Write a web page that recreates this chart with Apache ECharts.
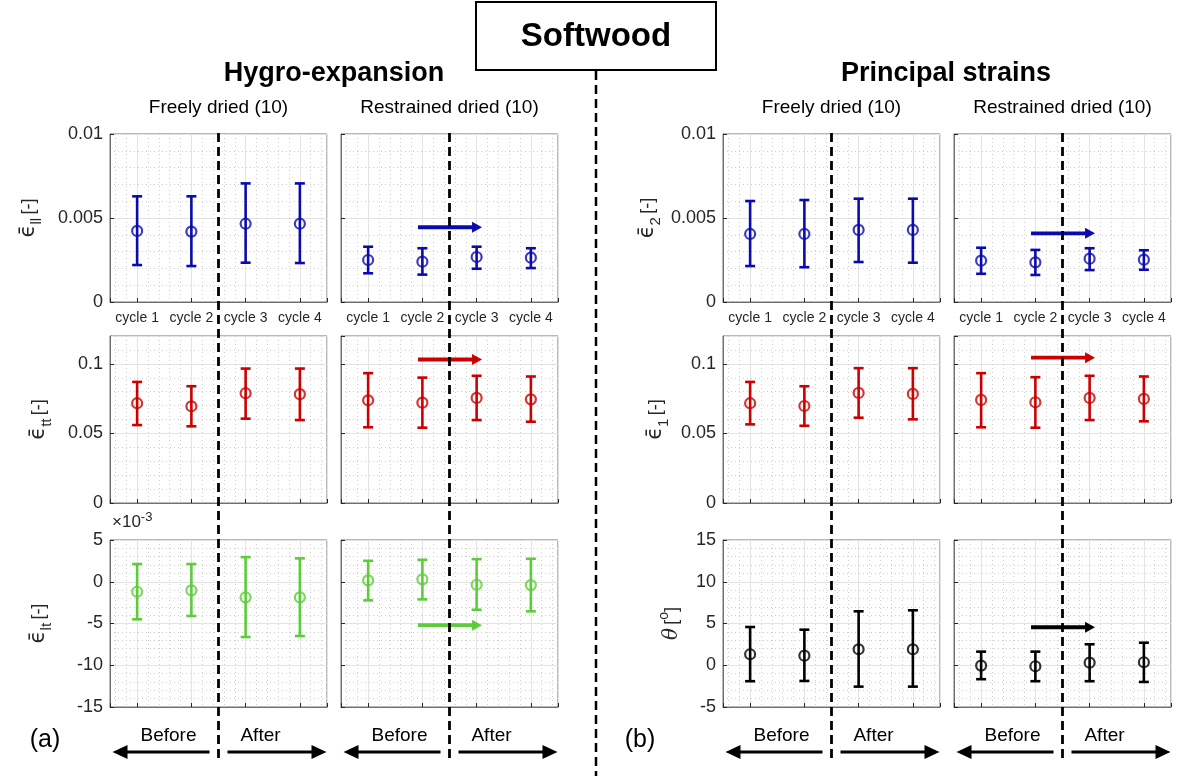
<!DOCTYPE html>
<html><head><meta charset="utf-8">
<script src="https://cdn.jsdelivr.net/npm/echarts@6/dist/echarts.min.js"></script>
<style>html,body{margin:0;padding:0;background:#fff}#c{width:1182px;height:776px}</style>
</head><body><div id="c"></div>
<script>
// ---------- data ----------
const cycles = [1, 2, 3, 4];
const cycleLabels = ['cycle 1', 'cycle 2', 'cycle 3', 'cycle 4'];

// Row 1: hygro-expansion eps_ll / principal eps_2
const llFreeMean = [0.00423, 0.00419, 0.00466, 0.00466];
const llFreeLow  = [0.00220, 0.00214, 0.00234, 0.00232];
const llFreeHigh = [0.00629, 0.00629, 0.00706, 0.00706];
const llRestMean = [0.00250, 0.00240, 0.00268, 0.00264];
const llRestLow  = [0.00171, 0.00163, 0.00198, 0.00202];
const llRestHigh = [0.00329, 0.00320, 0.00329, 0.00320];
const e2FreeMean = [0.00405, 0.00405, 0.00429, 0.00429];
const e2FreeLow  = [0.00214, 0.00207, 0.00238, 0.00234];
const e2FreeHigh = [0.00601, 0.00607, 0.00615, 0.00615];
const e2RestMean = [0.00246, 0.00236, 0.00258, 0.00252];
const e2RestLow  = [0.00168, 0.00161, 0.00190, 0.00192];
const e2RestHigh = [0.00323, 0.00310, 0.00320, 0.00308];

// Row 2: eps_tt / eps_1
const ttFreeMean = [0.0717, 0.0695, 0.0789, 0.0782];
const ttFreeLow  = [0.0560, 0.0551, 0.0606, 0.0596];
const ttFreeHigh = [0.0870, 0.0839, 0.0966, 0.0966];
const ttRestMean = [0.0738, 0.0721, 0.0755, 0.0745];
const ttRestLow  = [0.0544, 0.0541, 0.0596, 0.0584];
const ttRestHigh = [0.0933, 0.0901, 0.0914, 0.0909];
const e1FreeMean = [0.0717, 0.0697, 0.0791, 0.0784];
const e1FreeLow  = [0.0565, 0.0555, 0.0613, 0.0601];
const e1FreeHigh = [0.0870, 0.0839, 0.0969, 0.0969];
const e1RestMean = [0.0741, 0.0724, 0.0755, 0.0748];
const e1RestLow  = [0.0544, 0.0541, 0.0596, 0.0587];
const e1RestHigh = [0.0933, 0.0904, 0.0914, 0.0909];

// Row 3: eps_lt (x10^-3) / theta (deg)
const ltFreeMean = [-1.20, -1.03, -1.87, -1.87];
const ltFreeLow  = [-4.50, -4.10, -6.62, -6.50];
const ltFreeHigh = [2.12, 2.12, 2.95, 2.80];
const ltRestMean = [0.17, 0.29, -0.36, -0.40];
const ltRestLow  = [-2.23, -2.11, -3.35, -3.54];
const ltRestHigh = [2.51, 2.63, 2.71, 2.75];
const thFreeMean = [1.32, 1.15, 1.91, 1.91];
const thFreeLow  = [-1.91, -1.88, -2.56, -2.56];
const thFreeHigh = [4.58, 4.26, 6.46, 6.58];
const thRestMean = [-0.04, -0.12, 0.31, 0.36];
const thRestLow  = [-1.67, -1.91, -1.91, -2.00];
const thRestHigh = [1.63, 1.63, 2.51, 2.70];

// arrows in restrained panels: x start/end and y level
const arrowX = [1.92, 3.10];
const arrowLl = 0.00445, arrowE2 = 0.00409, arrowTt = 0.1031, arrowE1 = 0.1044, arrowLt = -5.2, arrowTh = 4.55;

// axis ticks
const row1Ticks = [0, 0.005, 0.01];
const row2Ticks = [0, 0.05, 0.1]; const row2Max = 0.12;
const ltTicks = [-15, -10, -5, 0, 5];
const thTicks = [-5, 0, 5, 10, 15];

// ---------- layout / style ----------
const FONT = '"Liberation Sans", Arial, Helvetica, sans-serif';
const TXT = '#262626';
const BLUE = '#0a0aaf', RED = '#cc0000', GREEN = '#5ccd3a', BLACK = '#000000';
const colLeft = [110, 341, 723, 954], colW = 217;
const rowTop = [134, 336, 540], rowH = [168, 167, 167];

const panels = [
  {m: llFreeMean, lo: llFreeLow, hi: llFreeHigh, c: BLUE, t: row1Ticks, name: 'll', gap: 66},
  {m: llRestMean, lo: llRestLow, hi: llRestHigh, c: BLUE, t: row1Ticks, arrow: arrowLl},
  {m: e2FreeMean, lo: e2FreeLow, hi: e2FreeHigh, c: BLUE, t: row1Ticks, name: '2', gap: 60},
  {m: e2RestMean, lo: e2RestLow, hi: e2RestHigh, c: BLUE, t: row1Ticks, arrow: arrowE2},
  {m: ttFreeMean, lo: ttFreeLow, hi: ttFreeHigh, c: RED, t: row2Ticks, max: row2Max, name: 'tt', gap: 56},
  {m: ttRestMean, lo: ttRestLow, hi: ttRestHigh, c: RED, t: row2Ticks, max: row2Max, arrow: arrowTt},
  {m: e1FreeMean, lo: e1FreeLow, hi: e1FreeHigh, c: RED, t: row2Ticks, max: row2Max, name: '1', gap: 52},
  {m: e1RestMean, lo: e1RestLow, hi: e1RestHigh, c: RED, t: row2Ticks, max: row2Max, arrow: arrowE1},
  {m: ltFreeMean, lo: ltFreeLow, hi: ltFreeHigh, c: GREEN, t: ltTicks, name: 'lt', gap: 56},
  {m: ltRestMean, lo: ltRestLow, hi: ltRestHigh, c: GREEN, t: ltTicks, arrow: arrowLt},
  {m: thFreeMean, lo: thFreeLow, hi: thFreeHigh, c: BLACK, t: thTicks, name: 'theta', gap: 36},
  {m: thRestMean, lo: thRestLow, hi: thRestHigh, c: BLACK, t: thTicks, arrow: arrowTh}
];

const richName = {
  e: {fontSize: 21, color: TXT, lineHeight: 30, fontFamily: '"DejaVu Sans", sans-serif'},
  s: {fontSize: 15, color: TXT, lineHeight: 15, verticalAlign: 'bottom', fontFamily: FONT},
  n: {fontSize: 18, color: TXT, lineHeight: 30, fontFamily: FONT},
  t: {fontSize: 20, color: TXT, lineHeight: 30, fontStyle: 'italic', fontFamily: '"DejaVu Serif", serif'},
  p: {fontSize: 14, color: TXT, lineHeight: 14, verticalAlign: 'top', fontFamily: FONT}
};
function axisName(n) {
  if (!n) return '';
  if (n === 'theta') return '{t|θ} {n|[}{p|o}{n|]}';
  return '{e|ϵ̄}{s|' + n + '} {n|[-]}';
}

const grids = [], xAxes = [], yAxes = [], series = [];
panels.forEach((p, i) => {
  const r = Math.floor(i / 4), c = i % 4;
  grids.push({left: colLeft[c], top: rowTop[r], width: colW, height: rowH[r],
    show: true, borderColor: '#707070', borderWidth: 1, backgroundColor: '#fff'});
  xAxes.push({type: 'value', gridIndex: i, min: 0.5, max: 4.5, splitNumber: 4,
    axisLine: {show: true, onZero: false, lineStyle: {color: '#707070'}},
    axisTick: {show: true, inside: true, length: 4, lineStyle: {color: TXT}},
    axisLabel: {show: r === 0, fontSize: 14, color: TXT, fontFamily: FONT, margin: 9,
      formatter: v => (Number.isInteger(v) && v >= 1 && v <= 4) ? cycleLabels[cycles.indexOf(v)] : ''},
    splitLine: {show: true, lineStyle: {color: '#e3e3e3', width: 1}},
    minorTick: {show: false, splitNumber: 5},
    minorSplitLine: {show: true, lineStyle: {color: '#cfcfcf', width: 1, type: [1, 3]}}
  });
  const t = p.t, step = t[1] - t[0];
  yAxes.push({type: 'value', gridIndex: i, min: t[0], max: p.max !== undefined ? p.max : t[t.length - 1],
    interval: step,
    name: axisName(p.name), nameLocation: 'middle', nameGap: p.gap || 40, nameRotate: 90,
    nameTextStyle: {rich: richName},
    axisLine: {show: true, onZero: false, lineStyle: {color: '#707070'}},
    axisTick: {show: true, inside: true, length: 4, lineStyle: {color: TXT}},
    axisLabel: {show: c === 0 || c === 2, fontSize: 18, color: TXT, fontFamily: FONT, margin: 7,
      showMaxLabel: p.max === undefined,
      formatter: v => Math.abs(v - Math.round(v / step) * step) < 1e-12 ? String(+v.toPrecision(6)) : ''},
    splitLine: {show: true, lineStyle: {color: '#e3e3e3', width: 1}},
    minorTick: {show: false, splitNumber: 5},
    minorSplitLine: {show: true, lineStyle: {color: '#cfcfcf', width: 1, type: [1, 3]}}
  });
  const col = p.c;
  series.push({
    type: 'custom', xAxisIndex: i, yAxisIndex: i, z: 5,
    data: cycles.map((x, k) => [x, p.m[k], p.lo[k], p.hi[k]]),
    encode: {x: 0, y: [2, 3]},
    renderItem: (params, api) => {
      const x = api.value(0);
      const a = api.coord([x, api.value(3)]), b = api.coord([x, api.value(2)]);
      const st = {stroke: col, lineWidth: 2.6};
      const cap = 5;
      return {type: 'group', children: [
        {type: 'line', shape: {x1: a[0], y1: a[1], x2: b[0], y2: b[1]}, style: st},
        {type: 'line', shape: {x1: a[0] - cap, y1: a[1], x2: a[0] + cap, y2: a[1]}, style: st},
        {type: 'line', shape: {x1: b[0] - cap, y1: b[1], x2: b[0] + cap, y2: b[1]}, style: st}
      ]};
    }
  });
  series.push({
    type: 'scatter', xAxisIndex: i, yAxisIndex: i, z: 6,
    symbol: 'circle', symbolSize: 10,
    itemStyle: {color: 'rgba(255,255,255,0)', borderColor: col, borderWidth: 2.2},
    data: cycles.map((x, k) => [x, p.m[k]])
  });
  if (p.arrow !== undefined) {
    series.push({
      type: 'custom', xAxisIndex: i, yAxisIndex: i, z: 7,
      data: [[arrowX[0], arrowX[1], p.arrow]],
      encode: {x: [0, 1], y: 2},
      renderItem: (params, api) => {
        const s = api.coord([api.value(0), api.value(2)]);
        const e = api.coord([api.value(1), api.value(2)]);
        const hl = 10, hh = 5.5;
        return {type: 'group', children: [
          {type: 'line', shape: {x1: s[0], y1: s[1], x2: e[0] - hl + 1, y2: e[1]}, style: {stroke: col, lineWidth: 3.8}},
          {type: 'polygon', shape: {points: [[e[0], e[1]], [e[0] - hl, e[1] - hh], [e[0] - hl, e[1] + hh]]}, style: {fill: col}}
        ]};
      }
    });
  }
});

const chart = echarts.init(document.getElementById('c'), null, {renderer: 'canvas'});
chart.setOption({
  backgroundColor: '#ffffff', animation: false,
  grid: grids, xAxis: xAxes, yAxis: yAxes, series: series
});

// ---------- annotations ----------
const g = [];
function txt(x, y, s, size, bold, align) {
  g.push({type: 'text', x: x, y: y, z: 20, style: {text: s, fill: '#000', font: (bold ? 'bold ' : '') + size + 'px ' + FONT,
    textAlign: align || 'center', textVerticalAlign: 'middle'}});
}
function harrow(x1, x2, y) {
  const dir = Math.sign(x2 - x1), hl = 15, hh = 7;
  g.push({type: 'line', z: 20, shape: {x1: x1, y1: y, x2: x2 - dir * (hl - 1), y2: y}, style: {stroke: '#000', lineWidth: 3}});
  g.push({type: 'polygon', z: 20, shape: {points: [[x2, y], [x2 - dir * hl, y - hh], [x2 - dir * hl, y + hh]]}, style: {fill: '#000'}});
}
// title box
g.push({type: 'rect', z: 20, shape: {x: 476, y: 2, width: 240, height: 68}, style: {fill: '#fff', stroke: '#000', lineWidth: 2}});
txt(596, 37, 'Softwood', 33, true);
txt(334, 74, 'Hygro-expansion', 27, true);
txt(946, 74, 'Principal strains', 27, true);
const subT = ['Freely dried (10)', 'Restrained dried (10)', 'Freely dried (10)', 'Restrained dried (10)'];
// central divider
g.push({type: 'line', z: 19, shape: {x1: 596, y1: 71, x2: 596, y2: 776}, style: {stroke: '#000', lineWidth: 2.5, lineDash: [9, 5]}});
for (let c = 0; c < 4; c++) {
  const xc = chart.convertToPixel({gridIndex: c}, [2.5, 0])[0];
  const mid = colLeft[c] + colW / 2;
  txt(mid, 108, subT[c], 19, false);
  g.push({type: 'line', z: 19, shape: {x1: xc, y1: 133, x2: xc, y2: 759}, style: {stroke: '#000', lineWidth: 2.8, lineDash: [9, 5]}});
  txt(xc - 50, 736, 'Before', 19, false);
  txt(xc + 42, 736, 'After', 19, false);
  harrow(xc - 9, xc - 106, 752);
  harrow(xc + 9, xc + 108, 752);
}
txt(45, 740, '(a)', 25, false);
txt(640, 740, '(b)', 25, false);
g.push({type: 'text', x: 112, y: 522, z: 20, style: {
  text: '{a|×10}{b|-3}', textAlign: 'left', textVerticalAlign: 'middle',
  rich: {a: {fontSize: 17, fill: TXT, fontFamily: FONT, lineHeight: 22}, b: {fontSize: 13, fill: TXT, fontFamily: FONT, verticalAlign: 'top', lineHeight: 13}}
}});
chart.setOption({graphic: {elements: g}});
</script></body></html>
